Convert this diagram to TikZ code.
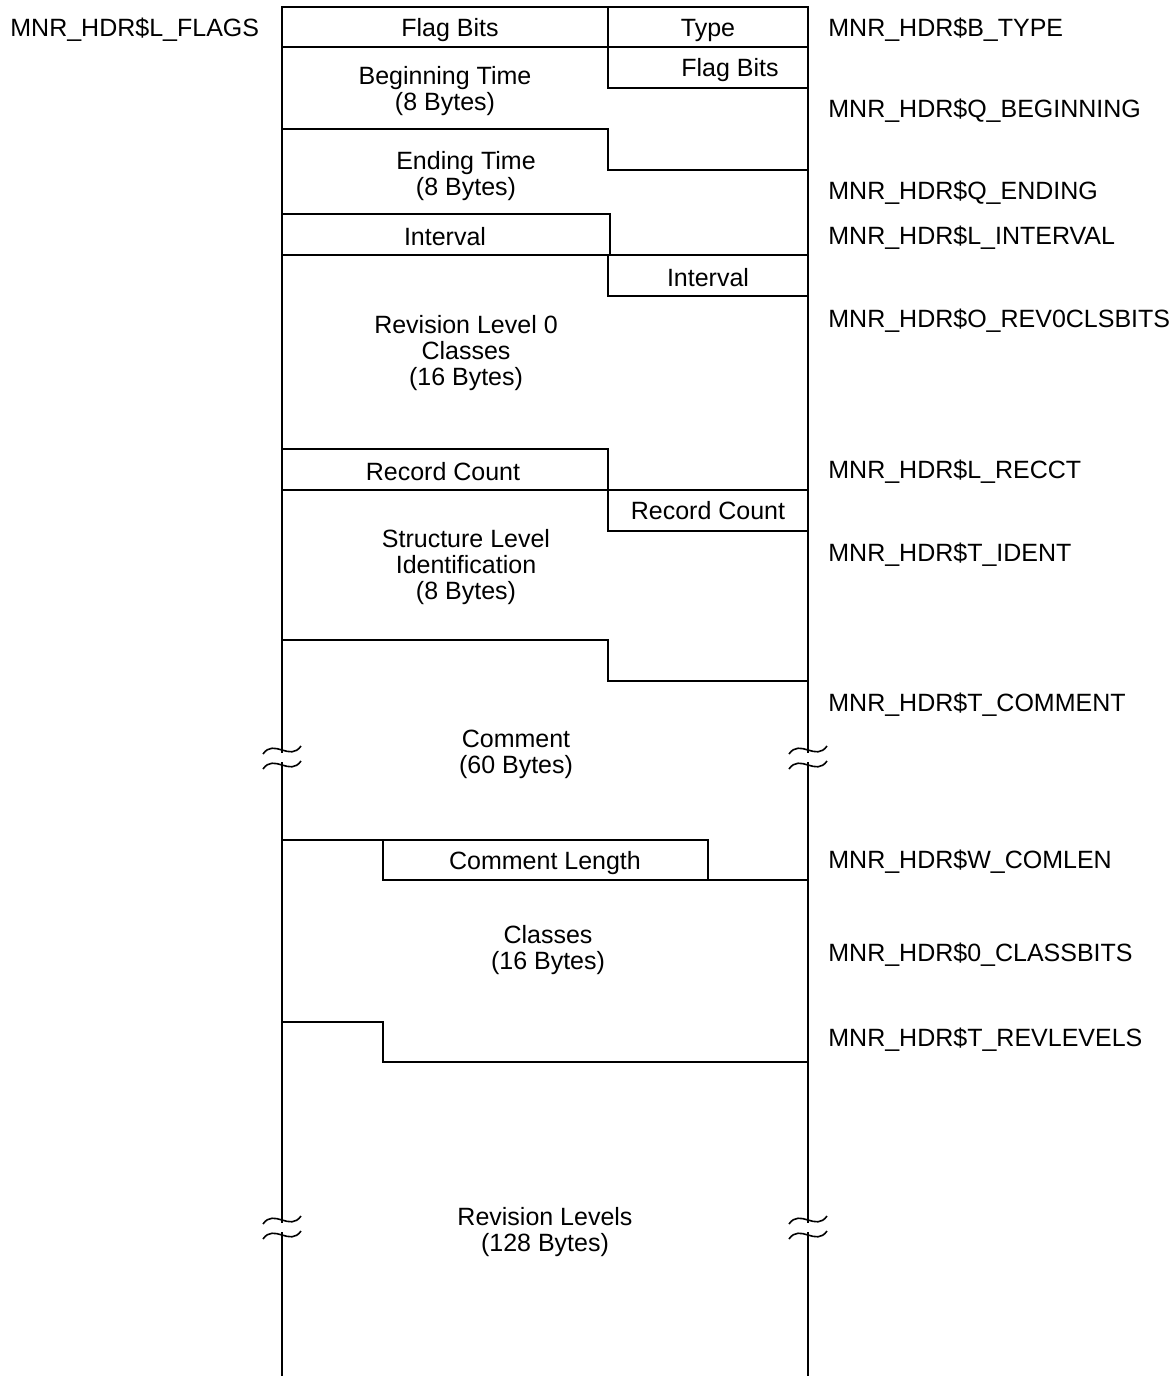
\documentclass[tikz,border=0pt]{standalone}
\usepackage{fontspec}
\setmainfont{Liberation Sans}
\usetikzlibrary{positioning}

% break mark on a vertical wall: x, upper wave y, lower wave y
\newcommand{\gapmark}[3]{%
  \fill[white] (#1-2,#2+3) rectangle (#1+2,#3-3);
  \draw[wave] (#1-19,#2+4) .. controls (#1-8,#2-12) and (#1+8,#2+12) .. (#1+19,#2-4);
  \draw[wave] (#1-19,#3+4) .. controls (#1-8,#3-12) and (#1+8,#3+12) .. (#1+19,#3-4);
}

\begin{document}
\begin{tikzpicture}[
    x=0.5pt, y=-0.5pt,
    field/.style={font=\fontsize{12.5}{13}\selectfont, align=center, inner sep=0pt, yshift=-1.5pt},
    sym/.style={font=\fontsize{12.5}{13}\selectfont, anchor=west, inner sep=0pt, yshift=-1.5pt},
    rule/.style={line width=0.8pt},
    wave/.style={line width=0.8pt}
]
\useasboundingbox (0,0) rectangle (1173,1376);

%% --- Outer walls ---
\draw[rule] (282,1376) -- (282,7) -- (808,7) -- (808,1376);

%% --- Field boundaries ---
\draw[rule] (608,7) -- (608,47);
\draw[rule] (282,47) -- (808,47);
\draw[rule] (608,47) -- (608,88) -- (808,88);
\draw[rule] (282,129) -- (608,129) -- (608,170) -- (808,170);
\draw[rule] (282,214) -- (610,214) -- (610,255);
\draw[rule] (282,255) -- (808,255);
\draw[rule] (608,255) -- (608,296) -- (808,296);
\draw[rule] (282,449) -- (608,449) -- (608,490);
\draw[rule] (282,490) -- (808,490);
\draw[rule] (608,490) -- (608,531) -- (808,531);
\draw[rule] (282,640) -- (608,640) -- (608,681) -- (808,681);
\draw[rule] (282,840) -- (383,840) -- (383,880) -- (808,880);
\draw[rule] (383,840) -- (708,840) -- (708,880);
\draw[rule] (282,1022) -- (383,1022) -- (383,1062) -- (808,1062);

%% --- Break marks ---
\gapmark{282}{750}{765}
\gapmark{808}{750}{765}
\gapmark{282}{1220}{1235}
\gapmark{808}{1220}{1235}

%% --- Field texts ---
\node[field] (flags)    at (450,27)   {Flag Bits};
\node[field] (type)     at (708,27)   {Type};
\node[field] (flags2)   at (730,67)   {Flag Bits};
\node[field] (begtime)  at (445,88)   {Beginning Time\\(8 Bytes)};
\node[field] (endtime)  at (466,173)  {Ending Time\\(8 Bytes)};
\node[field] (intv)     at (445,234)  {Interval};
\node[field] (intv2)    at (708,275)  {Interval};
\node[field] (rev0)     at (466,350)  {Revision Level 0\\Classes\\(16 Bytes)};
\node[field] (recct)    at (443,469)  {Record Count};
\node[field] (recct2)   at (708,508)  {Record Count};
\node[field] (ident)    at (466,564)  {Structure Level\\Identification\\(8 Bytes)};
\node[field] (comment)  at (516,751)  {Comment\\(60 Bytes)};
\node[field] (comlen)   at (545,860)  {Comment Length};
\node[field] (classes)  at (548,947)  {Classes\\(16 Bytes)};
\node[field] (revlev)   at (545,1229) {Revision Levels\\(128 Bytes)};

%% --- Symbol names ---
\node[sym] (s_flags)   at (10,27)   {MNR\_HDR\$L\_FLAGS};
\node[sym] (s_type)    at (828,27)  {MNR\_HDR\$B\_TYPE};
\node[sym] (s_beg)     at (828,108) {MNR\_HDR\$Q\_BEGINNING};
\node[sym] (s_end)     at (828,190) {MNR\_HDR\$Q\_ENDING};
\node[sym] (s_intv)    at (828,235) {MNR\_HDR\$L\_INTERVAL};
\node[sym] (s_rev0)    at (828,318) {MNR\_HDR\$O\_REV0CLSBITS};
\node[sym] (s_recct)   at (828,469) {MNR\_HDR\$L\_RECCT};
\node[sym] (s_ident)   at (828,552) {MNR\_HDR\$T\_IDENT};
\node[sym] (s_comment) at (828,702) {MNR\_HDR\$T\_COMMENT};
\node[sym] (s_comlen)  at (828,859) {MNR\_HDR\$W\_COMLEN};
\node[sym] (s_classes) at (828,952) {MNR\_HDR\$0\_CLASSBITS};
\node[sym] (s_revlev)  at (828,1037) {MNR\_HDR\$T\_REVLEVELS};

\end{tikzpicture}
\end{document}
